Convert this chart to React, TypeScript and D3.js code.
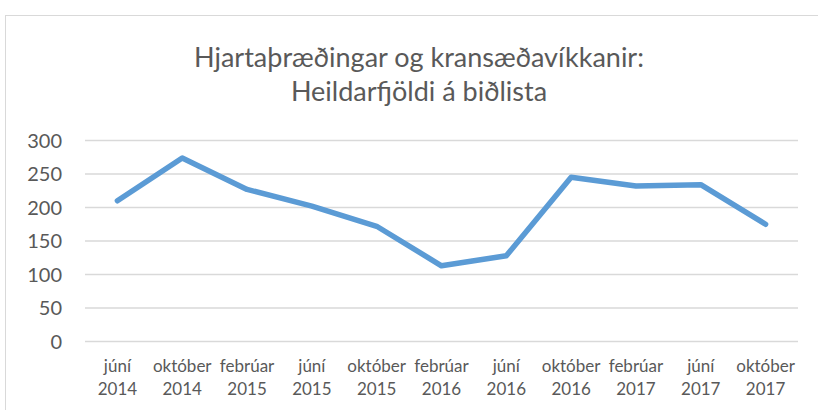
import React from "react";
import * as d3 from "d3";

const months = ["júní", "október", "febrúar", "júní", "október", "febrúar", "júní", "október", "febrúar", "júní", "október"];
const years = ["2014", "2014", "2015", "2015", "2015", "2016", "2016", "2016", "2017", "2017", "2017"];
const values = [210, 274, 227, 202, 172, 113, 128, 245, 232, 234, 175];
const yTicks = [0, 50, 100, 150, 200, 250, 300];
const titleLines = ["Hjartaþræðingar og kransæðavíkkanir:", "Heildarfjöldi á biðlista"];

const W = 818;
const H = 410;
const FONT = "Lato, 'Open Sans', sans-serif";

export default function App() {
  const keys = months.map((_, i) => String(i));
  const x = d3.scaleBand<string>().domain(keys).range([85, 798]).padding(0);
  const y = d3.scaleLinear().domain([0, 300]).range([341.5, 140.5]);
  const cx = (i: number) => (x(String(i)) as number) + x.bandwidth() / 2;
  const line = d3
    .line<number>()
    .x((_, i) => cx(i))
    .y((d) => y(d));

  return (
    <svg
      width={W}
      height={H}
      style={{ position: "absolute", left: 0, top: 0, background: "#fff" }}
    >
      <rect x={5.5} y={15.5} width={W + 20} height={H + 20} fill="#fff" stroke="#d9d9d9" strokeWidth={1} />
      {titleLines.map((t, i) => (
        <text
          key={i}
          x={419}
          y={67 + i * 34}
          textAnchor="middle"
          fontFamily={FONT}
          fontWeight={400}
          fontSize={27}
          fill="#595959"
        >
          {t}
        </text>
      ))}
      {yTicks.map((t) => (
        <g key={t}>
          <line x1={85} x2={798} y1={y(t)} y2={y(t)} stroke="#d9d9d9" strokeWidth={1.3} />
          <text
            x={62}
            y={y(t) + 7}
            textAnchor="end"
            fontFamily={FONT}
            fontSize={20}
            fill="#595959"
          >
            {t}
          </text>
        </g>
      ))}
      {months.map((m, i) => (
        <text
          key={i}
          x={cx(i)}
          textAnchor="middle"
          fontFamily={FONT}
          fontSize={17}
          fill="#595959"
        >
          <tspan x={cx(i)} y={372}>{m}</tspan>
          <tspan x={cx(i)} y={395}>{years[i]}</tspan>
        </text>
      ))}
      <path
        d={line(values) || ""}
        fill="none"
        stroke="#5b9bd5"
        strokeWidth={5.5}
        strokeLinejoin="round"
        strokeLinecap="round"
      />
    </svg>
  );
}
